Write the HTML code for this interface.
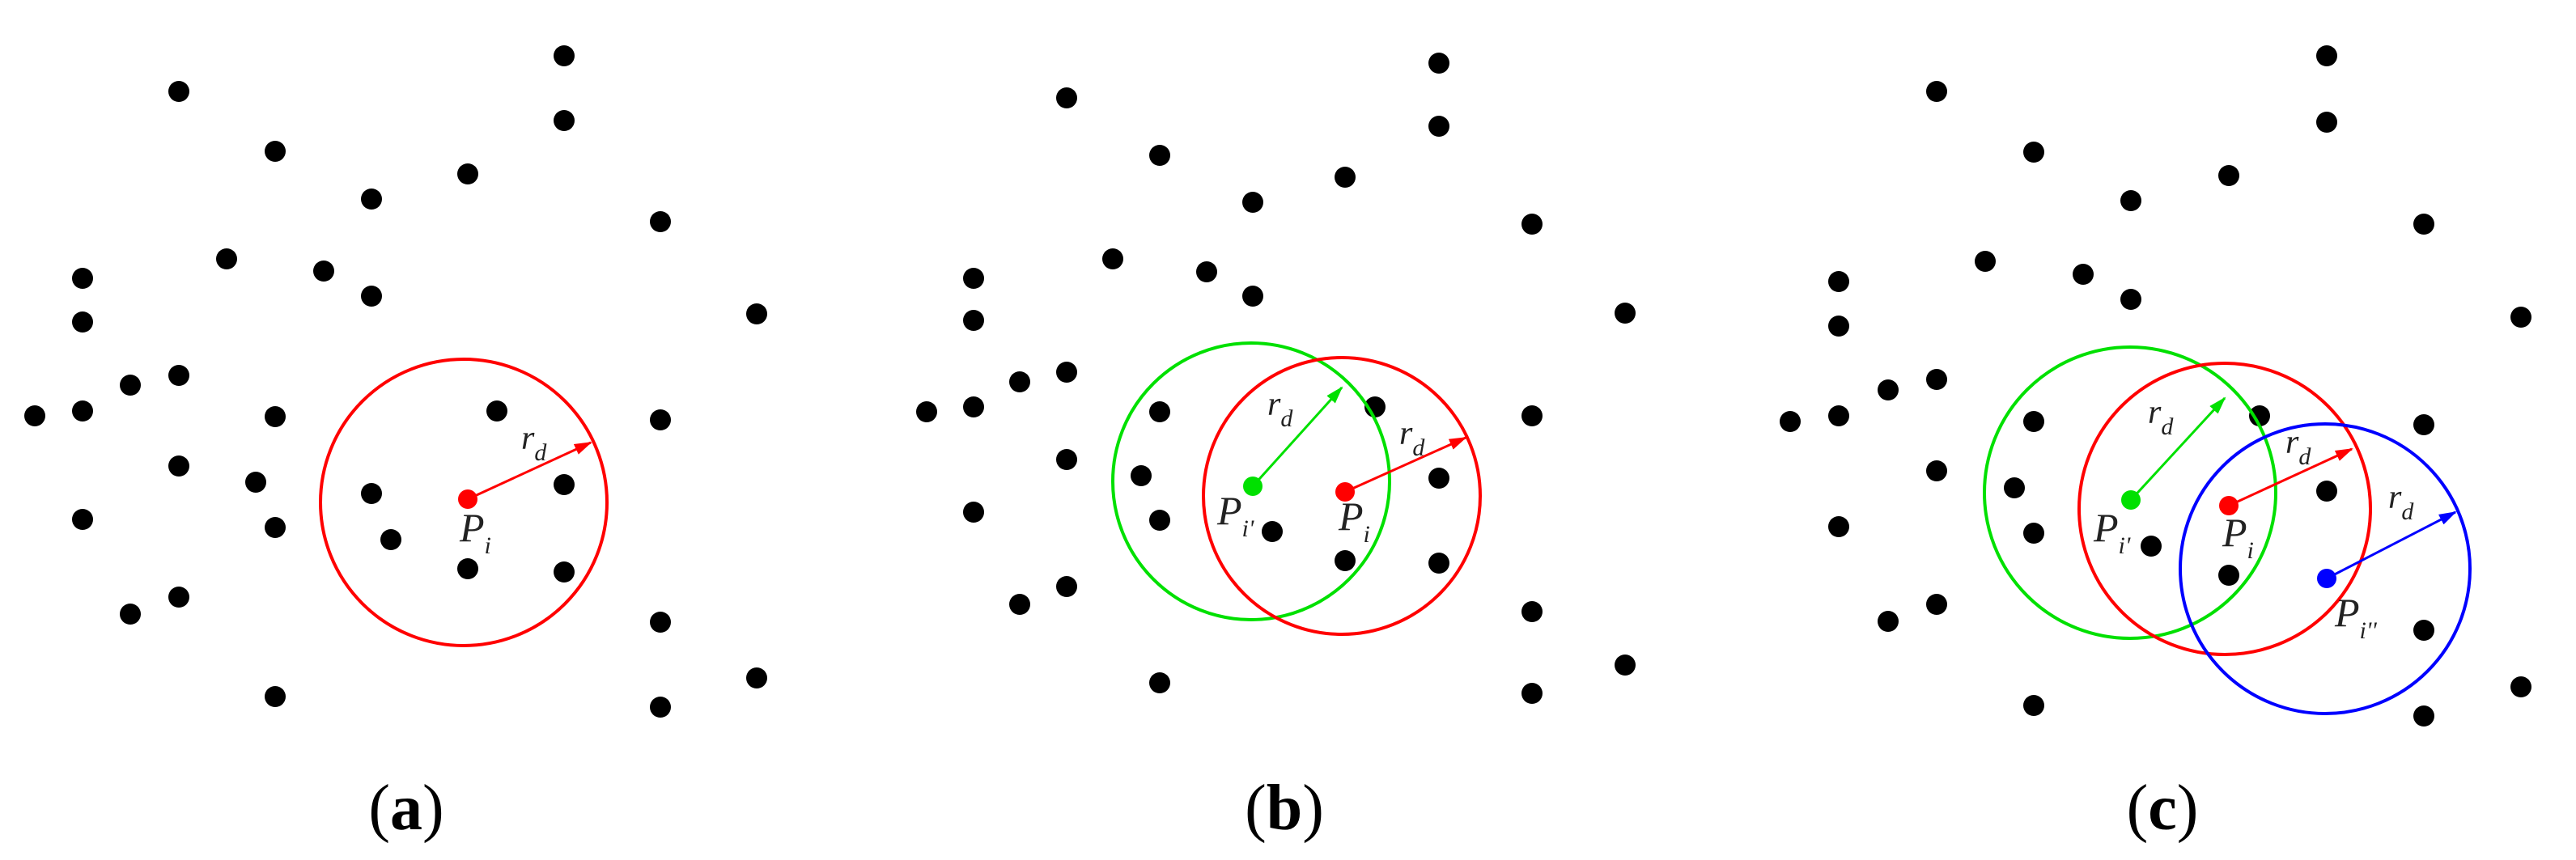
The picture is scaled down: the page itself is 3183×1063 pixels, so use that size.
<!DOCTYPE html>
<html><head><style>html,body{margin:0;padding:0;background:#fff}svg{display:block}</style></head>
<body>
<svg width="3183" height="1063" viewBox="0 0 3183 1063" xmlns="http://www.w3.org/2000/svg" font-family="Liberation Serif, serif">
<defs>
<marker id="ar" markerWidth="22" markerHeight="14" refX="20" refY="7" orient="auto" markerUnits="userSpaceOnUse" viewBox="0 0 22 14"><path d="M0,0 L22,7 L0,14z" fill="#ff0000"/></marker>
<marker id="ag" markerWidth="22" markerHeight="14" refX="20" refY="7" orient="auto" markerUnits="userSpaceOnUse" viewBox="0 0 22 14"><path d="M0,0 L22,7 L0,14z" fill="#00e000"/></marker>
<marker id="ab" markerWidth="22" markerHeight="14" refX="20" refY="7" orient="auto" markerUnits="userSpaceOnUse" viewBox="0 0 22 14"><path d="M0,0 L22,7 L0,14z" fill="#0000ff"/></marker>
</defs>
<style>.m{fill:none}</style>
<g fill="#000">
<circle cx="697" cy="69" r="13"/><circle cx="221" cy="113" r="13"/><circle cx="697" cy="149" r="13"/><circle cx="340" cy="187" r="13"/><circle cx="578" cy="215" r="13"/><circle cx="459" cy="246" r="13"/><circle cx="816" cy="274" r="13"/><circle cx="280" cy="320" r="13"/><circle cx="400" cy="335" r="13"/><circle cx="102" cy="344" r="13"/><circle cx="459" cy="366" r="13"/><circle cx="935" cy="388" r="13"/><circle cx="102" cy="398" r="13"/><circle cx="221" cy="464" r="13"/><circle cx="161" cy="476" r="13"/><circle cx="43" cy="514" r="13"/><circle cx="102" cy="508" r="13"/><circle cx="340" cy="515" r="13"/><circle cx="614" cy="508" r="13"/><circle cx="816" cy="519" r="13"/><circle cx="221" cy="576" r="13"/><circle cx="316" cy="596" r="13"/><circle cx="459" cy="610" r="13"/><circle cx="697" cy="599" r="13"/><circle cx="102" cy="642" r="13"/><circle cx="340" cy="652" r="13"/><circle cx="483" cy="667" r="13"/><circle cx="578" cy="703" r="13"/><circle cx="697" cy="707" r="13"/><circle cx="161" cy="759" r="13"/><circle cx="221" cy="738" r="13"/><circle cx="816" cy="769" r="13"/><circle cx="935" cy="838" r="13"/><circle cx="340" cy="861" r="13"/><circle cx="816" cy="874" r="13"/>
<circle cx="1778" cy="78" r="13"/><circle cx="1318" cy="121" r="13"/><circle cx="1778" cy="156" r="13"/><circle cx="1433" cy="192" r="13"/><circle cx="1662" cy="219" r="13"/><circle cx="1548" cy="250" r="13"/><circle cx="1893" cy="277" r="13"/><circle cx="1375" cy="320" r="13"/><circle cx="1491" cy="336" r="13"/><circle cx="1203" cy="344" r="13"/><circle cx="1548" cy="366" r="13"/><circle cx="2008" cy="387" r="13"/><circle cx="1203" cy="396" r="13"/><circle cx="1318" cy="460" r="13"/><circle cx="1260" cy="472" r="13"/><circle cx="1145" cy="509" r="13"/><circle cx="1203" cy="503" r="13"/><circle cx="1433" cy="509" r="13"/><circle cx="1699" cy="503" r="13"/><circle cx="1893" cy="514" r="13"/><circle cx="1318" cy="568" r="13"/><circle cx="1410" cy="588" r="13"/><circle cx="1778" cy="591" r="13"/><circle cx="1203" cy="633" r="13"/><circle cx="1433" cy="643" r="13"/><circle cx="1572" cy="657" r="13"/><circle cx="1662" cy="693" r="13"/><circle cx="1778" cy="696" r="13"/><circle cx="1260" cy="747" r="13"/><circle cx="1318" cy="725" r="13"/><circle cx="1893" cy="756" r="13"/><circle cx="2008" cy="822" r="13"/><circle cx="1433" cy="844" r="13"/><circle cx="1893" cy="857" r="13"/>
<circle cx="2875" cy="69" r="13"/><circle cx="2393" cy="113" r="13"/><circle cx="2875" cy="151" r="13"/><circle cx="2513" cy="188" r="13"/><circle cx="2754" cy="217" r="13"/><circle cx="2633" cy="248" r="13"/><circle cx="2995" cy="277" r="13"/><circle cx="2453" cy="323" r="13"/><circle cx="2574" cy="339" r="13"/><circle cx="2272" cy="348" r="13"/><circle cx="2633" cy="370" r="13"/><circle cx="3115" cy="392" r="13"/><circle cx="2272" cy="403" r="13"/><circle cx="2393" cy="469" r="13"/><circle cx="2333" cy="482" r="13"/><circle cx="2212" cy="521" r="13"/><circle cx="2272" cy="514" r="13"/><circle cx="2513" cy="521" r="13"/><circle cx="2792" cy="514" r="13"/><circle cx="2995" cy="525" r="13"/><circle cx="2393" cy="582" r="13"/><circle cx="2489" cy="603" r="13"/><circle cx="2875" cy="607" r="13"/><circle cx="2272" cy="651" r="13"/><circle cx="2513" cy="659" r="13"/><circle cx="2658" cy="675" r="13"/><circle cx="2754" cy="711" r="13"/><circle cx="2995" cy="779" r="13"/><circle cx="2333" cy="768" r="13"/><circle cx="2393" cy="747" r="13"/><circle cx="3115" cy="849" r="13"/><circle cx="2513" cy="872" r="13"/><circle cx="2995" cy="885" r="13"/>
</g>
<g class="m" stroke-width="4">
<circle cx="573" cy="621" r="177" stroke="#ff0000"/>
<circle cx="1546" cy="595" r="171" stroke="#00e000"/>
<circle cx="1658" cy="613" r="171" stroke="#ff0000"/>
<circle cx="2632" cy="609" r="180" stroke="#00e000"/>
<circle cx="2749" cy="629" r="180" stroke="#ff0000"/>
<circle cx="2873" cy="703" r="179" stroke="#0000ff"/>
</g>
<g stroke-width="3">
<line x1="578" y1="617" x2="730" y2="547" stroke="#ff0000" marker-end="url(#ar)"/>
<line x1="1548" y1="601" x2="1658" y2="479" stroke="#00e000" marker-end="url(#ag)"/>
<line x1="1662" y1="608" x2="1811" y2="541" stroke="#ff0000" marker-end="url(#ar)"/>
<line x1="2633" y1="618" x2="2749" y2="492" stroke="#00e000" marker-end="url(#ag)"/>
<line x1="2754" y1="625" x2="2906" y2="555" stroke="#ff0000" marker-end="url(#ar)"/>
<line x1="2875" y1="715" x2="3034" y2="633" stroke="#0000ff" marker-end="url(#ab)"/>
</g>
<circle cx="578" cy="617" r="12" fill="#ff0000"/>
<circle cx="1548" cy="601" r="12" fill="#00e000"/>
<circle cx="1662" cy="608" r="12" fill="#ff0000"/>
<circle cx="2633" cy="618" r="12" fill="#00e000"/>
<circle cx="2754" cy="625" r="12" fill="#ff0000"/>
<circle cx="2875" cy="715" r="12" fill="#0000ff"/>
<g font-style="italic" fill="#222">
<text x="568" y="669" font-size="50">P<tspan font-size="30" dy="15">i</tspan></text>
<text x="644" y="555" font-size="42">r<tspan font-size="30" dy="14">d</tspan></text>
<text x="1504" y="648" font-size="50">P<tspan font-size="30" dy="15">i'</tspan></text>
<text x="1654" y="655" font-size="50">P<tspan font-size="30" dy="15">i</tspan></text>
<text x="1566" y="513" font-size="42">r<tspan font-size="30" dy="14">d</tspan></text>
<text x="1729" y="549" font-size="42">r<tspan font-size="30" dy="14">d</tspan></text>
<text x="2587" y="669" font-size="50">P<tspan font-size="30" dy="15">i'</tspan></text>
<text x="2746" y="675" font-size="50">P<tspan font-size="30" dy="15">i</tspan></text>
<text x="2885" y="774" font-size="50">P<tspan font-size="30" dy="15">i''</tspan></text>
<text x="2654" y="523" font-size="42">r<tspan font-size="30" dy="14">d</tspan></text>
<text x="2824" y="560" font-size="42">r<tspan font-size="30" dy="14">d</tspan></text>
<text x="2951" y="628" font-size="42">r<tspan font-size="30" dy="14">d</tspan></text>
</g>
<g font-size="80" text-anchor="middle" fill="#000">
<text x="502" y="1025">(<tspan font-weight="bold">a</tspan>)</text>
<text x="1587" y="1025">(<tspan font-weight="bold">b</tspan>)</text>
<text x="2672" y="1025">(<tspan font-weight="bold">c</tspan>)</text>
</g>
</svg>
</body></html>
